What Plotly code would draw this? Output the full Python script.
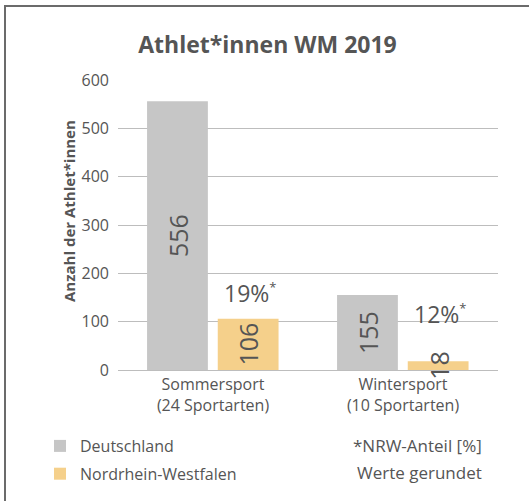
import plotly.graph_objects as go

categories = ["Sommersport<br>(24 Sportarten)", "Wintersport<br>(10 Sportarten)"]
deutschland = [556, 155]
nrw = [106, 18]
nrw_share = [19, 12]
y_ticks = [0, 100, 200, 300, 400, 500, 600]

W, H = 529, 501
L, R, T, B = 118, 31, 80, 131
PW, PH = W - L - R, H - T - B

def px_x(px):
    return (px - L) / PW

def px_y(py):
    return (H - B - py) / PH

TXT = "#555555"
FONT = "Open Sans"
GRAY = "#c6c6c6"
YEL = "#f5d08b"

bar_w = 0.32
off_de = -0.347
off_nrw = 0.025

fig = go.Figure()
fig.add_trace(go.Bar(x=categories, y=deutschland, name="Deutschland",
                     marker=dict(color=GRAY, line=dict(width=0)),
                     width=bar_w, offset=off_de, legendgroup="a"))
fig.add_trace(go.Bar(x=categories, y=nrw, name="Nordrhein-Westfalen",
                     marker=dict(color=YEL, line=dict(width=0)),
                     width=bar_w, offset=off_nrw, legendgroup="b"))

annotations = []
for i in range(len(categories)):
    annotations.append(dict(x=i + off_de + bar_w / 2, y=deutschland[i] / 2, xref="x", yref="y",
                            text=str(deutschland[i]), textangle=-90, showarrow=False,
                            font=dict(size=25, color=TXT, family=FONT)))
    annotations.append(dict(x=i + off_nrw + bar_w / 2, y=nrw[i] / 2, xref="x", yref="y",
                            text=str(nrw[i]), textangle=-90, showarrow=False,
                            font=dict(size=25, color=TXT, family=FONT)))
pct_shift = [8, 29]
for i in range(len(categories)):
    annotations.append(dict(x=i + off_nrw + bar_w / 2, y=nrw[i], xref="x", yref="y",
                            text=f"{nrw_share[i]}%<sup><span style='font-size:13px'>*</span></sup>",
                            showarrow=False,
                            yanchor="bottom", yshift=pct_shift[i], xshift=2,
                            font=dict(size=23, color=TXT, family=FONT)))

annotations.append(dict(x=px_x(57), y=px_y(211), xref="paper", yref="paper",
                        text="<b>Anzahl der Athlet*innen</b>", textangle=-90, showarrow=False,
                        font=dict(size=15, color=TXT, family=FONT)))
annotations.append(dict(x=px_x(484), y=px_y(445), xref="paper", yref="paper",
                        text="*NRW-Anteil [%]", showarrow=False, xanchor="right", yanchor="middle",
                        font=dict(size=17, color=TXT, family=FONT)))
annotations.append(dict(x=px_x(484), y=px_y(472), xref="paper", yref="paper",
                        text="Werte gerundet", showarrow=False, xanchor="right", yanchor="middle",
                        font=dict(size=17, color=TXT, family=FONT)))

fig.update_layout(
    width=W, height=H,
    margin=dict(l=L, r=R, t=T, b=B, autoexpand=False),
    paper_bgcolor="white", plot_bgcolor="white",
    barmode="group",
    title=dict(text="<b>Athlet*innen WM 2019</b>", x=267.5 / W,
               xanchor="center", y=1 - 45 / H, yanchor="middle", yref="container",
               font=dict(size=23, color=TXT, family=FONT)),
    font=dict(family=FONT, color=TXT),
    showlegend=True,
    legend=dict(x=px_x(40), y=px_y(429), xanchor="left", yanchor="top",
                orientation="v", tracegroupgap=4, traceorder="grouped",
                font=dict(size=16, color=TXT, family=FONT), bgcolor="rgba(0,0,0,0)"),
    annotations=annotations,
    shapes=[dict(type="rect", xref="paper", yref="paper",
                 x0=px_x(5), x1=px_x(560), y0=px_y(540), y1=px_y(6),
                 line=dict(color="#6b6b6b", width=2), fillcolor="rgba(0,0,0,0)", layer="below")],
)
fig.update_xaxes(type="category", range=[-0.5, 1.5], showgrid=False, showline=False,
                 zeroline=False, ticks="", ticklabelstandoff=3,
                 tickfont=dict(size=16, color=TXT, family=FONT))
fig.update_yaxes(range=[0, 600], tickvals=y_ticks, showgrid=True, gridcolor="#bdbdbd",
                 gridwidth=1, zeroline=True, zerolinecolor="#bdbdbd", zerolinewidth=1,
                 showline=False, ticks="", ticklabelstandoff=8,
                 tickfont=dict(size=16, color=TXT, family=FONT))

fig.write_html("out.html", config={"displayModeBar": False},
               post_script="document.body.style.margin='0';document.body.style.overflow='hidden';")
